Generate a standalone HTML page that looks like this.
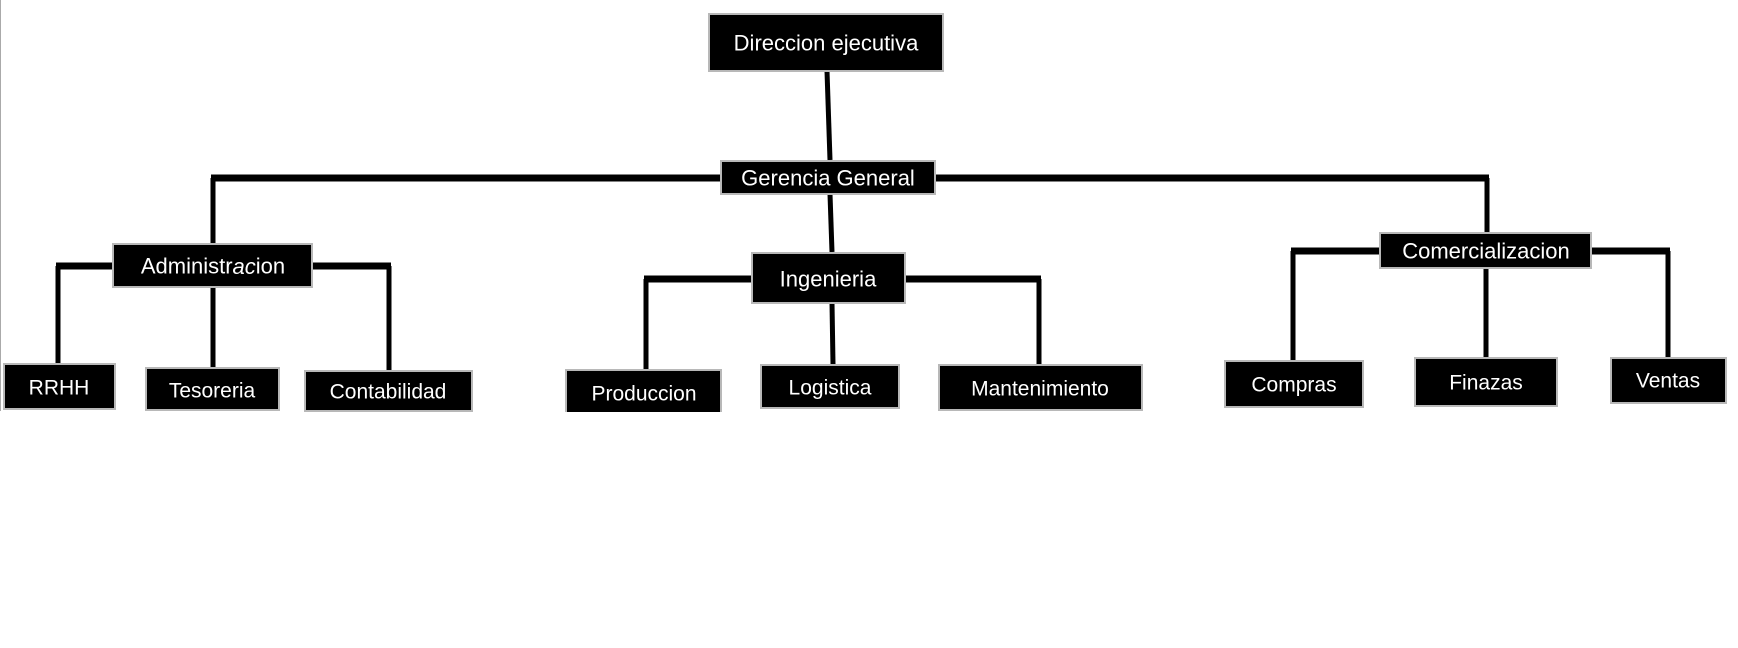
<!DOCTYPE html>
<html><head><meta charset="utf-8"><style>
html,body{margin:0;padding:0;background:#fff;width:1738px;height:648px;overflow:hidden}
text{font-family:"Liberation Sans",sans-serif;font-size:21px;fill:#fff;text-anchor:middle;dominant-baseline:central}
</style></head><body>
<svg width="1738" height="648" xmlns="http://www.w3.org/2000/svg">
<line x1="0.5" y1="0" x2="0.5" y2="411" stroke="#aaa" stroke-width="1"/>
<g stroke="#000" fill="none" stroke-linecap="butt">
<line x1="827" y1="71" x2="830" y2="160" stroke-width="5"/>
<line x1="213" y1="178" x2="213" y2="243" stroke-width="5"/>
<line x1="211" y1="178" x2="720" y2="178" stroke-width="7"/>
<line x1="936" y1="178" x2="1489" y2="178" stroke-width="7"/>
<line x1="1487" y1="178" x2="1487" y2="232" stroke-width="5"/>
<line x1="830" y1="194" x2="832" y2="252" stroke-width="5"/>
<!-- admin -->
<line x1="58" y1="266" x2="58" y2="363" stroke-width="5"/>
<line x1="56" y1="266" x2="112" y2="266" stroke-width="7"/>
<line x1="389" y1="266" x2="389" y2="370" stroke-width="5"/>
<line x1="313" y1="266" x2="391" y2="266" stroke-width="7"/>
<line x1="213" y1="287" x2="213" y2="367" stroke-width="5"/>
<!-- ing -->
<line x1="646" y1="279" x2="646" y2="369" stroke-width="5"/>
<line x1="644" y1="279" x2="751" y2="279" stroke-width="7"/>
<line x1="1039" y1="279" x2="1039" y2="364" stroke-width="5"/>
<line x1="906" y1="279" x2="1041" y2="279" stroke-width="7"/>
<line x1="832" y1="303" x2="833" y2="364" stroke-width="5"/>
<!-- com -->
<line x1="1293" y1="251" x2="1293" y2="360" stroke-width="5"/>
<line x1="1291" y1="251" x2="1379" y2="251" stroke-width="7"/>
<line x1="1668" y1="251" x2="1668" y2="357" stroke-width="5"/>
<line x1="1592" y1="251" x2="1670" y2="251" stroke-width="7"/>
<line x1="1486" y1="268" x2="1486" y2="357" stroke-width="5"/>
</g>
<g fill="#000" stroke="#b8b8b8" stroke-width="2">
<rect x="709" y="14" width="234" height="57"/>
<rect x="721" y="161" width="214" height="33"/>
<rect x="113" y="244" width="199" height="43"/>
<rect x="752" y="253" width="153" height="50"/>
<rect x="1380" y="233" width="211" height="35"/>
<rect x="4" y="364" width="111" height="45"/>
<rect x="146" y="368" width="133" height="42"/>
<rect x="305" y="371" width="167" height="40"/>
<rect x="566" y="370" width="155" height="50"/>
<rect x="761" y="365" width="138" height="43"/>
<rect x="939" y="365" width="203" height="45"/>
<rect x="1225" y="361" width="138" height="46"/>
<rect x="1415" y="358" width="142" height="48"/>
<rect x="1611" y="358" width="115" height="45"/>
</g>
<rect x="560" y="412" width="170" height="20" fill="#fff"/>
<text x="826" y="43" style="font-size:22px">Direccion ejecutiva</text>
<text x="828" y="178" style="font-size:22px">Gerencia General</text>
<text x="213" y="266" style="font-size:22px">Administr<tspan font-style="italic">ac</tspan>ion</text>
<text x="828" y="279" style="font-size:22px">Ingenieria</text>
<text x="1486" y="251" style="font-size:22px">Comercializacion</text>
<text x="59" y="388">RRHH</text>
<text x="212" y="391">Tesoreria</text>
<text x="388" y="392">Contabilidad</text>
<text x="644" y="394">Produccion</text>
<text x="830" y="388">Logistica</text>
<text x="1040" y="389">Mantenimiento</text>
<text x="1294" y="385">Compras</text>
<text x="1486" y="383">Finazas</text>
<text x="1668" y="381">Ventas</text>
</svg>
</body></html>
